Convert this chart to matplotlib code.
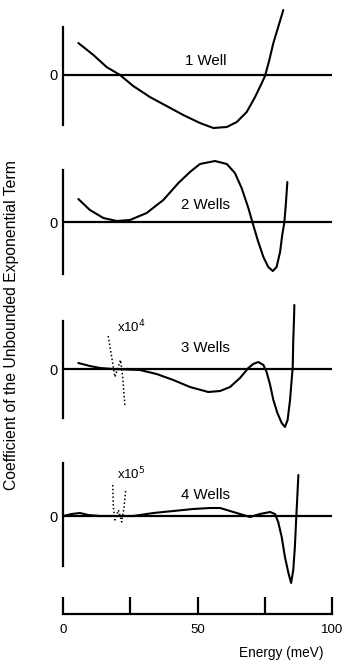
import matplotlib
matplotlib.use('Agg')
import matplotlib.pyplot as plt

plt.rcParams['font.family'] = ['Liberation Sans', 'DejaVu Sans']

W, H = 342, 661

# ---- data (energy in meV, coefficient in arbitrary units) ----
e1 = [5.7, 11.3, 16.2, 21.2, 26.1, 32.3, 38.5, 44.7, 50.9, 55.9, 60.9, 64.6, 68.3,
      71.4, 73.9, 75.1, 76.7, 78.2, 80.0, 81.9]
c1 = [3.2, 2.0, 0.8, 0.0, -1.1, -2.2, -3.1, -4.0, -4.8, -5.3, -5.2, -4.7, -3.7,
      -2.2, -0.8, -0.1, 1.5, 3.2, 4.8, 6.5]

e2 = [5.7, 10.0, 15.0, 20.0, 24.9, 31.1, 37.3, 42.9, 47.2, 50.9, 56.5, 60.9, 63.9,
      66.4, 68.9, 70.5, 72.6, 74.5, 76.3, 78.0, 79.4, 80.7, 81.5, 82.3, 82.9, 83.4]
c2 = [2.3, 1.2, 0.4, 0.1, 0.2, 0.9, 2.2, 3.9, 5.0, 5.8, 6.1, 5.8, 4.9,
      3.4, 1.4, -0.1, -2.0, -3.5, -4.5, -4.9, -4.5, -3.0, -1.3, 0.0, 2.0, 4.0]

e3 = [5.7, 10.0, 13.8, 18.7, 28.6, 34.8, 41.0, 47.2, 54.0, 58.4, 62.1, 65.8, 68.9,
      70.7, 72.6, 74.5, 75.7, 77.0, 78.2, 79.7, 81.3, 82.5, 83.5, 84.4, 85.0, 85.4,
      85.6, 85.9, 86.0]
c3 = [0.6, 0.3, 0.1, 0.0, -0.1, -0.5, -1.1, -1.8, -2.3, -2.2, -1.8, -0.9, 0.1,
      0.5, 0.7, 0.4, -0.3, -1.6, -3.1, -4.4, -5.4, -5.8, -5.1, -3.1, -1.1, 0.2,
      2.9, 5.2, 6.4]
e3_zoom = [16.8, 18.1, 19.3, 20.5, 21.4, 22.2, 23.0]
c3_zoom = [3.3, 1.2, -0.8, 0.2, 0.9, -0.8, -3.6]

e4 = [0.1, 3.2, 6.3, 9.4, 13.8, 26.1, 33.6, 41.0, 48.4, 54.6, 58.4, 62.1, 65.8,
      69.5, 73.2, 77.0, 78.8, 80.0, 81.3, 82.5, 83.8, 84.8, 85.6, 86.2, 86.7,
      87.1, 87.5]
c4 = [0.0, 0.2, 0.3, 0.1, 0.0, 0.0, 0.3, 0.5, 0.7, 0.8, 0.8, 0.5, 0.2,
      -0.1, 0.2, 0.4, 0.2, -0.6, -2.1, -4.1, -5.7, -6.7, -5.4, -3.1, -0.2,
      1.9, 4.1]
e4_zoom = [18.5, 18.7, 19.3, 20.6, 21.8, 22.7, 23.3]
c4_zoom = [3.1, 0.9, -0.4, 0.6, -0.6, 0.9, 2.6]

labels = ['1 Well', '2 Wells', '3 Wells', '4 Wells']
zoom_labels = [None, None, r'x10$^{4}$', r'x10$^{5}$']

# layout (pixels) for each panel: row of the zero line, row of the label, spine extent
zero_rows = [75, 222, 369, 516]
label_rows = [61, 205, 348, 495]
spine_ext = [(-5.0, 4.8), (-5.2, 5.2), (-4.9, 4.8), (-5.0, 5.3)]

X0, X1 = 63, 332          # pixel columns of E = 0 and E = 100
YSPAN = 7.0               # data units above/below zero in each panel
PX_PER_UNIT = 10.0

fig = plt.figure(figsize=(W / 100, H / 100), dpi=100)
fig.patch.set_facecolor('white')

def add_axes_px(x0, x1, ytop, ybot):
    return fig.add_axes([x0 / W, 1 - ybot / H, (x1 - x0) / W, (ybot - ytop) / H])

curves = [(e1, c1, None, None), (e2, c2, None, None),
          (e3, c3, e3_zoom, c3_zoom), (e4, c4, e4_zoom, c4_zoom)]

for i, (e, c, ez, cz) in enumerate(curves):
    zero_px = zero_rows[i]
    ax = add_axes_px(X0, X1, zero_px - YSPAN * PX_PER_UNIT, zero_px + YSPAN * PX_PER_UNIT)
    ax.set_xlim(0, 100)
    ax.set_ylim(-YSPAN, YSPAN)
    ax.patch.set_alpha(0)
    for s in ('top', 'right', 'bottom'):
        ax.spines[s].set_visible(False)
    ax.spines['left'].set_bounds(*spine_ext[i])
    ax.spines['left'].set_linewidth(1.6)
    ax.set_xticks([])
    ax.set_yticks([0])
    ax.set_yticklabels(['0'])
    ax.tick_params(axis='y', length=0, pad=4, labelsize=10.5)
    ax.axhline(0, color='black', lw=1.6)
    ax.plot(e, c, color='black', lw=1.5, clip_on=False,
            solid_joinstyle='round', solid_capstyle='round')
    if ez is not None:
        ax.plot(ez, cz, color='black', lw=1.1, ls=(0, (1, 1.5)), clip_on=False)
        ax.text(20.0, 4.2, zoom_labels[i], fontsize=9.5, ha='left', va='center')
    ax.text(53, (zero_px - label_rows[i]) / PX_PER_UNIT, labels[i],
            fontsize=10.8, ha='center', va='center')

# shared energy axis
axb = add_axes_px(X0, X1, 560, 614)
axb.set_xlim(0, 100)
axb.set_ylim(0, 1)
axb.patch.set_alpha(0)
for s in ('top', 'right', 'left'):
    axb.spines[s].set_visible(False)
axb.spines['bottom'].set_linewidth(1.6)
axb.set_yticks([])
axb.set_xticks([0, 25, 50, 75, 100])
axb.set_xticklabels(['0', '', '50', '', '100'])
axb.tick_params(axis='x', direction='in', length=12.5, width=1.6, pad=7, labelsize=9.5)

fig.text(281 / W, 1 - 653 / H, 'Energy (meV)', fontsize=9.8, ha='center', va='center')
fig.text(12 / W, 1 - 325 / H, 'Coefficient of the Unbounded Exponential Term',
         fontsize=11.3, rotation=90, ha='center', va='center')

fig.savefig('out.png', dpi=100)
